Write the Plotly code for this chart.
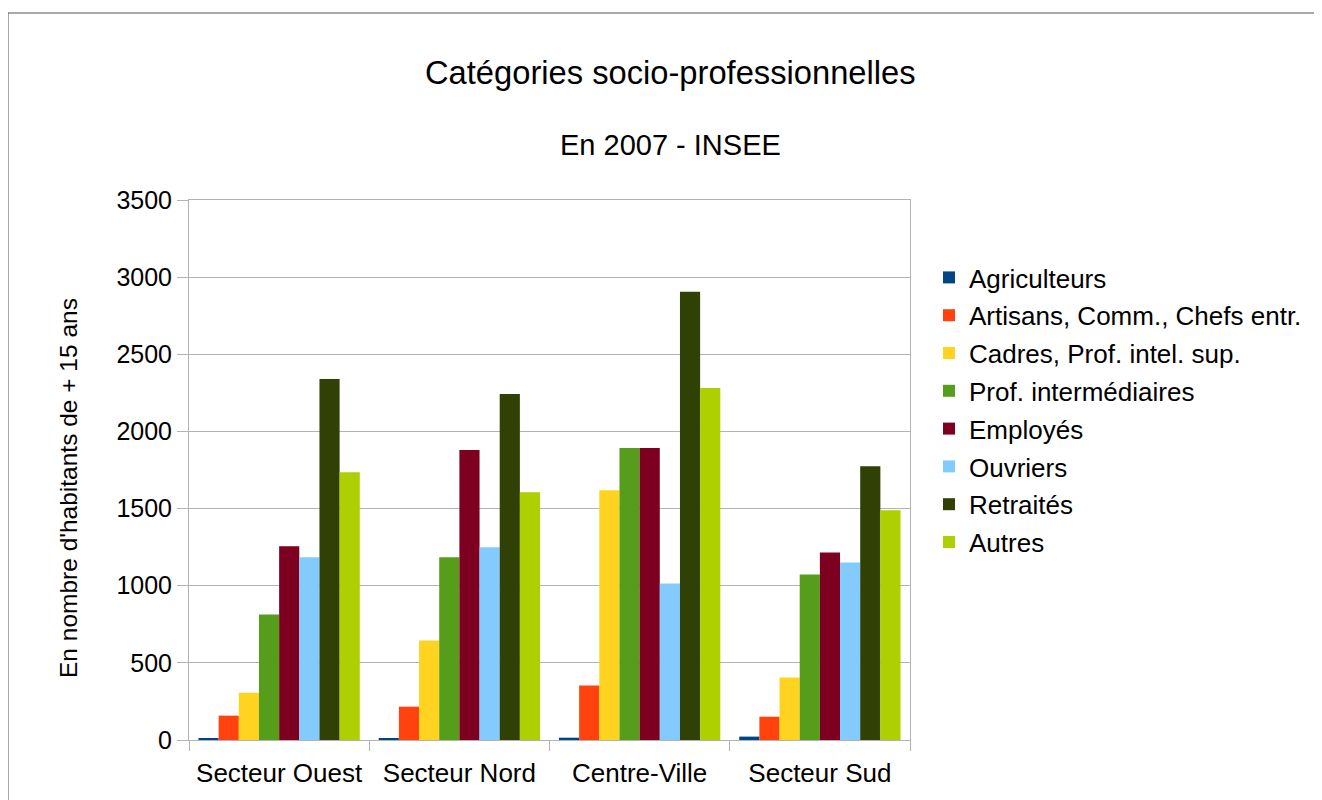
import plotly.graph_objects as go

categories = ["Secteur Ouest", "Secteur Nord", "Centre-Ville", "Secteur Sud"]

agriculteurs = [10, 10, 15, 22]
artisans = [158, 216, 353, 151]
cadres = [307, 645, 1619, 405]
prof_inter = [814, 1184, 1892, 1073]
employes = [1255, 1879, 1892, 1216]
ouvriers = [1184, 1249, 1015, 1151]
retraites = [2340, 2242, 2905, 1775]
autres = [1736, 1606, 2281, 1489]

series_names = ["Agriculteurs", "Artisans, Comm., Chefs entr.", "Cadres, Prof. intel. sup.",
                "Prof. intermédiaires", "Employés", "Ouvriers", "Retraités", "Autres"]
series_values = [agriculteurs, artisans, cadres, prof_inter, employes, ouvriers, retraites, autres]
colors = ["#004586", "#ff420e", "#ffd320", "#579d1c", "#7e0021", "#83caff", "#314004", "#aecf00"]

y_ticks = [0, 500, 1000, 1500, 2000, 2500, 3000, 3500]

FONT = "Liberation Sans, Arial, sans-serif"

fig = go.Figure()
for name, vals, col in zip(series_names, series_values, colors):
    fig.add_trace(go.Bar(x=categories, y=vals, name=name, marker_color=col,
                         marker_line_width=0, legendgroup=name))

OFF = 8  # page body margin
W, H = 1322 - OFF, 800 - OFF
L, R, T, B = 189 - OFF, 910 - OFF, 200 - OFF, 740 - OFF
pw, ph = R - L, B - T


def px(x):
    return (x - OFF - L) / pw


def py(y):
    return (B - (y - OFF)) / ph


fig.update_layout(
    width=W, height=H,
    margin=dict(l=L, r=W - R, t=T, b=H - B),
    paper_bgcolor="white", plot_bgcolor="white",
    font=dict(family=FONT, size=25, color="black"),
    barmode="group", bargap=0.105, bargroupgap=0,
    showlegend=True,
    legend=dict(x=px(929), y=py(254), xanchor="left", yanchor="top",
                font=dict(size=26, family=FONT), traceorder="grouped",
                tracegroupgap=1, itemwidth=30, bgcolor="rgba(0,0,0,0)"),
    xaxis=dict(type="category", tickson="boundaries", ticks="outside", ticklen=10,
               tickcolor="#b3b3b3", showline=True, linecolor="#b3b3b3", linewidth=1,
               mirror=True, showgrid=False, tickfont=dict(size=26), ticklabelstandoff=10),
    yaxis=dict(range=[0, 3500], tickvals=y_ticks, ticks="outside", ticklen=11,
               tickcolor="#b3b3b3", showline=True, linecolor="#b3b3b3", mirror=True,
               gridcolor="#b3b3b3", gridwidth=1, zeroline=False, tickfont=dict(size=25)),
    annotations=[
        dict(text="Catégories socio-professionnelles", xref="paper", yref="paper",
             x=px(670), y=py(72), xanchor="center", yanchor="middle",
             showarrow=False, font=dict(size=32.7, family=FONT)),
        dict(text="En 2007 - INSEE", xref="paper", yref="paper",
             x=px(670), y=py(145), xanchor="center", yanchor="middle",
             showarrow=False, font=dict(size=29, family=FONT)),
        dict(text="En nombre d'habitants de + 15 ans", xref="paper", yref="paper",
             x=px(68), y=py(488), xanchor="center", yanchor="middle", textangle=-90,
             showarrow=False, font=dict(size=24.5, family=FONT)),
    ],
    shapes=[
        dict(type="rect", xref="paper", yref="paper",
             x0=px(8), x1=px(1319), y0=py(820), y1=py(13),
             line=dict(color="#555555", width=1), fillcolor="rgba(0,0,0,0)", layer="below"),
    ],
)

fig.write_html("out.html")
